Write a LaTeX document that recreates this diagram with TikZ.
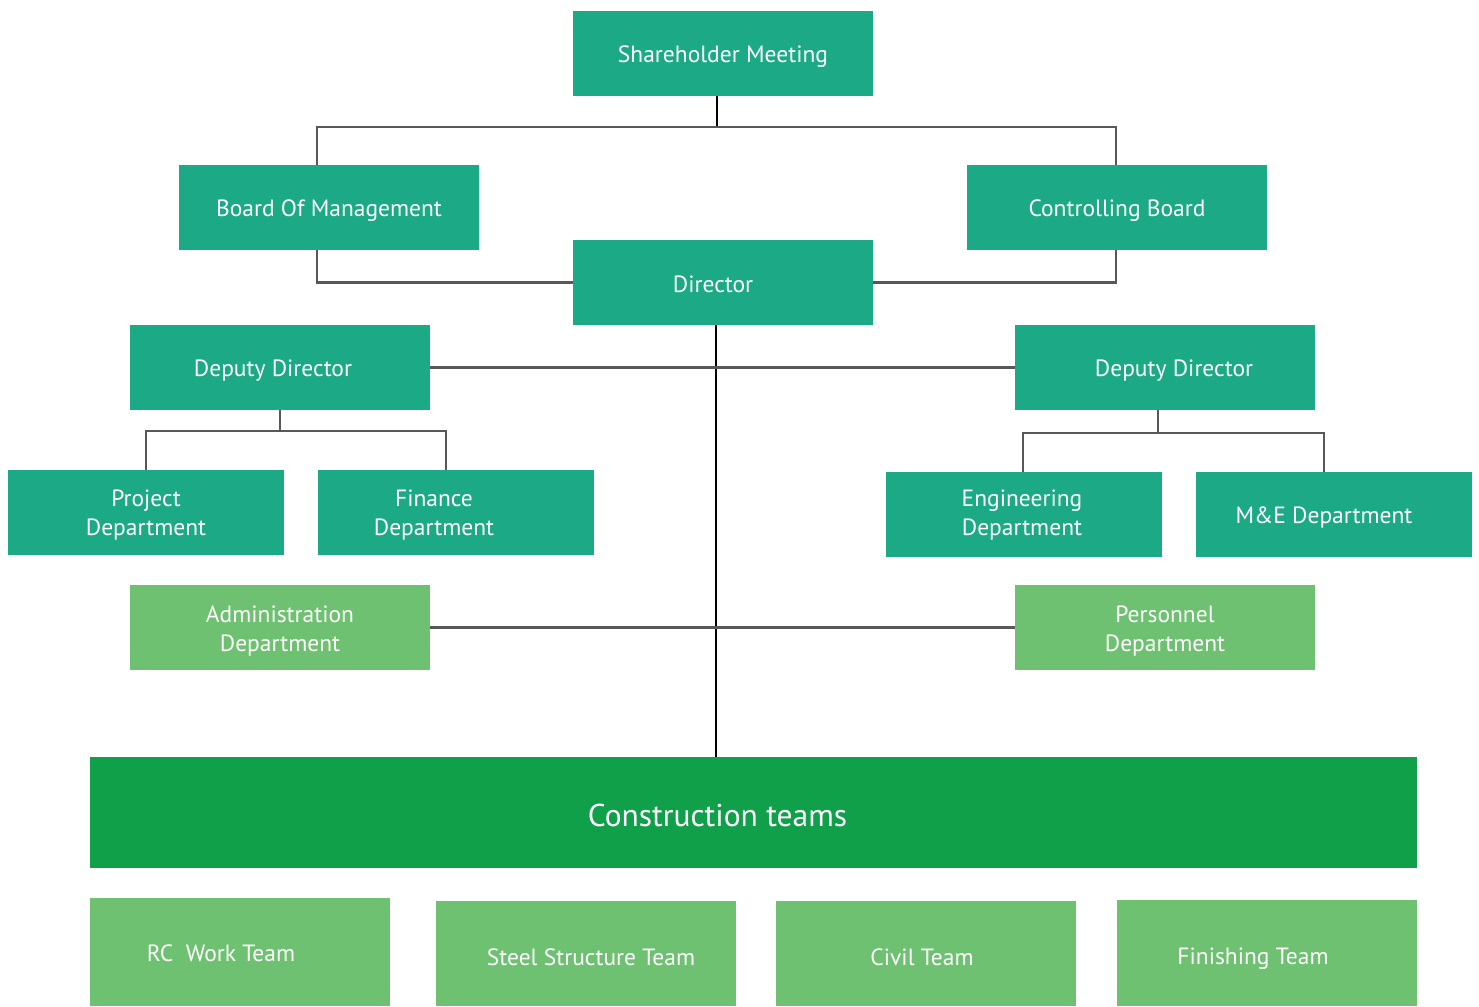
\documentclass[tikz,border=0pt]{standalone}
\usepackage{fontspec}
\setmainfont{PT Sans}
\usetikzlibrary{calc}
\definecolor{teal1}{RGB}{27,169,134}
\definecolor{lgreen}{RGB}{110,193,112}
\definecolor{dgreen}{RGB}{17,160,74}
\definecolor{lgrey}{RGB}{88,88,88}
\tikzset{
  bx/.style={rectangle, inner sep=0pt, outer sep=0pt, draw=none},
  tl/.style={bx, fill=teal1},
  lg/.style={bx, fill=lgreen},
  dg/.style={bx, fill=dgreen},
  txt/.style={text=white, font=\fontsize{23.5}{29}\selectfont, align=center, inner sep=0pt, yshift=-3pt},
  conn/.style={draw=lgrey, line width=2.2pt},
  blk/.style={draw=black, line width=1.6pt},
  thinblk/.style={draw=black, line width=1.2pt},
}
\begin{document}
\begin{tikzpicture}[x=1pt,y=-1pt]
\useasboundingbox (0,0) rectangle (1479,1006);
% boxes
\node[tl, minimum width=300pt, minimum height=85pt, label={[txt]center:Shareholder Meeting}] (sh) at (723,53.5) {};
\node[tl, minimum width=300pt, minimum height=85pt, label={[txt]center:Board Of Management}] (bm) at (329,207.5) {};
\node[tl, minimum width=300pt, minimum height=85pt, label={[txt]center:Controlling Board}] (cb) at (1117,207.5) {};
\node[tl, minimum width=300pt, minimum height=85pt, label={[txt,xshift=-10pt,yshift=1pt]center:Director}] (dir) at (723,282.5) {};
\node[tl, minimum width=300pt, minimum height=85pt, label={[txt,xshift=-7pt]center:Deputy Director}] (ddl) at (280,367.5) {};
\node[tl, minimum width=300pt, minimum height=85pt, label={[txt,xshift=9pt]center:Deputy Director}] (ddr) at (1165,367.5) {};
\node[tl, minimum width=276pt, minimum height=85pt, label={[txt]center:Project\\Department}] (pd) at (146,512.5) {};
\node[tl, minimum width=276pt, minimum height=85pt, label={[txt,xshift=-22pt]center:Finance\\Department}] (fd) at (456,512.5) {};
\node[tl, minimum width=276pt, minimum height=85pt, label={[txt,xshift=-2pt,yshift=2pt]center:Engineering\\Department}] (ed) at (1024,514.5) {};
\node[tl, minimum width=276pt, minimum height=85pt, label={[txt,xshift=-10pt]center:M\&E Department}] (me) at (1334,514.5) {};
\node[lg, minimum width=300pt, minimum height=85pt, label={[txt]center:Administration\\Department}] (adm) at (280,627.5) {};
\node[lg, minimum width=300pt, minimum height=85pt, label={[txt,yshift=-1pt]center:Personnel\\Department}] (per) at (1165,627.5) {};
\node[dg, minimum width=1327pt, minimum height=111pt, label={[txt,font=\fontsize{31.5}{36}\selectfont,xshift=-36pt]center:Construction teams}] (ct) at (753.5,812.5) {};
\node[lg, minimum width=300pt, minimum height=108pt, label={[txt,xshift=-19pt,yshift=2pt]center:RC~ Work Team}] (rc) at (240,952) {};
\node[lg, minimum width=300pt, minimum height=105pt, label={[txt,xshift=5pt,yshift=-1pt]center:Steel Structure Team}] (st) at (586,953.5) {};
\node[lg, minimum width=300pt, minimum height=105pt, label={[txt,xshift=-4pt,yshift=-1pt]center:Civil Team}] (cv) at (926,953.5) {};
\node[lg, minimum width=300pt, minimum height=106pt, label={[txt,xshift=-14pt,yshift=-3pt]center:Finishing Team}] (fn) at (1267,953) {};
% connectors
\draw[blk] ([xshift=-6pt]sh.south) -- ++(0,31);
\draw[conn] ([xshift=-12pt]bm.north) |- ($(sh.south)+(0,31)$) -| ([xshift=-1pt]cb.north);
\draw[conn] ([xshift=-12pt]bm.south) |- (dir.west);
\draw[conn] ([xshift=-1pt]cb.south) |- (dir.east);
\draw[thinblk] ([xshift=-7pt]dir.south) -- ([xshift=-7pt]dir.south |- ct.north);
\draw[conn] (ddl.east) -- (ddr.west);
\draw[conn] (adm.east) -- (per.west);
\draw[conn] (ddl.south) -- ++(0,21);
\draw[conn] (pd.north) |- ($(ddl.south)+(0,21)$) -| ([xshift=-10pt]fd.north);
\draw[conn] ([xshift=-7pt]ddr.south) -- ++(0,23);
\draw[conn] ([xshift=-1pt]ed.north) |- ($(ddr.south)+(0,23)$) -| ([xshift=-10pt]me.north);
\end{tikzpicture}
\end{document}
